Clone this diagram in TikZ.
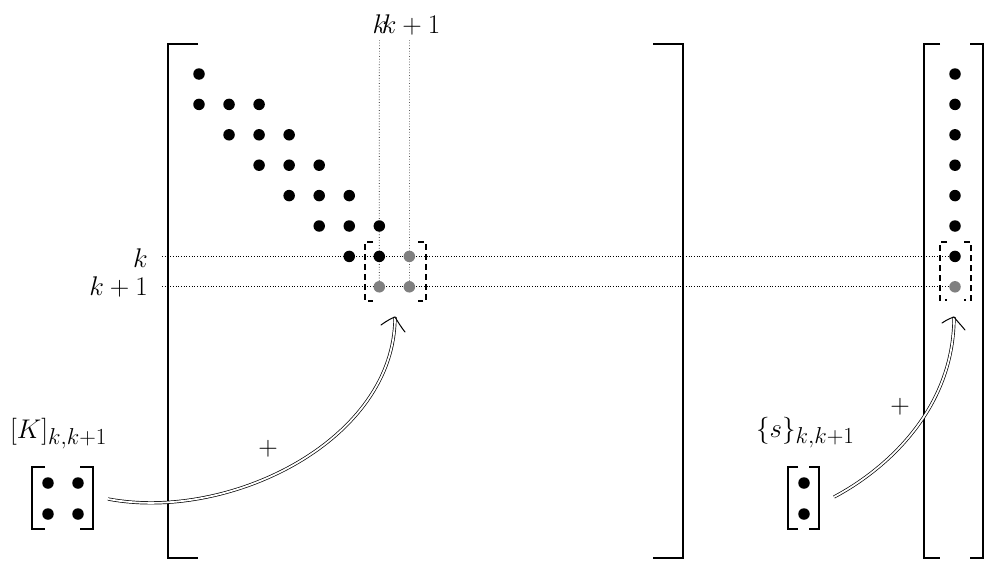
\documentclass[tikz,border=0pt]{standalone}
\usepackage{fix-cm}
\DeclareMathSizes{27}{27}{23}{17}
\usetikzlibrary{arrows.meta,backgrounds}
\begin{document}
\begin{tikzpicture}[x=1pt,y=-1pt,
  bracket/.style={line width=1.8pt},
  dotb/.style={circle,fill=black,inner sep=0pt,minimum size=11.5pt},
  dotg/.style={circle,fill=gray,inner sep=0pt,minimum size=11.5pt},
  guide/.style={dotted,line width=0.7pt},
  dbox/.style={dash pattern=on 6pt off 4pt,line width=1.3pt},
  lab/.style={font=\fontsize{27}{32}\selectfont,inner sep=0pt},
  sumarrow/.style={double,double distance=1.8pt,line width=0.7pt},
  chevron/.style={line width=1pt,line cap=round},
]
\useasboundingbox (0,0) rectangle (985,562);

% big matrix dots
\foreach \r/\cl in {0/{0},1/{0,1,2},2/{1,2,3},3/{2,3,4},4/{3,4,5},5/{4,5,6},6/{5,6}}{
  \foreach \c in \cl {
    \node[dotb] (m-\r-\c) at ({199+30.05*\c},{74+30.4*\r}) {};
  }
}
\node[dotg] (m-6-7) at ({199+30.05*7},{74+30.4*6}) {};
\node[dotg] (m-7-6) at ({199+30.05*6},{74+30.4*7}) {};
\node[dotg] (m-7-7) at ({199+30.05*7},{74+30.4*7}) {};

% vector dots
\foreach \r in {0,...,6}{
  \node[dotb] (v-\r) at (955,{74+30.4*\r}) {};
}
\node[dotg] (v-7) at (955,{74+30.4*7}) {};

% small matrix and vector dots
\node[dotb] (s-1-1) at (48,483) {};
\node[dotb] (s-1-2) at (78,483) {};
\node[dotb] (s-2-1) at (48,514) {};
\node[dotb] (s-2-2) at (78,514) {};
\node[dotb] (t-1) at (804,483) {};
\node[dotb] (t-2) at (804,514) {};

% labels
\node[lab,anchor=base] (topk) at (380,33) {$k$};
\node[lab,anchor=base] (topk1) at (411,33) {$k+1$};
\node[lab,anchor=base east] (lk) at (148,267) {$k$};
\node[lab,anchor=base east] (lk1) at (148,295) {$k+1$};
\node[lab,anchor=base west] (Klab) at (10,438) {$[K]_{k,k+1}$};
\node[lab,anchor=base west] (slab) at (756,437) {$\{s\}_{k,k+1}$};
\node[lab] (plus1) at (268,449) {$+$};
\node[lab] (plus2) at (900,407) {$+$};

% guide lines
\coordinate (gk) at (162,{74+30.4*6});
\coordinate (gk1) at (162,{74+30.4*7});
\coordinate (gc) at (379.35,40);
\coordinate (gc1) at (409.35,40);
\begin{scope}[on background layer]
  \draw[guide] (gk) -- (v-6);
  \draw[guide] (gk1) -- (v-7);
  \draw[guide] (gc) -- (m-7-6);
  \draw[guide] (gc1) -- (m-7-7);
\end{scope}

% big matrix brackets
\draw[bracket] (198,44) -- (168,44) -- (168,558) -- (198,558);
\draw[bracket] (653,44) -- (683,44) -- (683,558) -- (653,558);
% vector brackets
\draw[bracket] (940,44) -- (924,44) -- (924,558) -- (940,558);
\draw[bracket] (970,44) -- (983,44) -- (983,558) -- (970,558);
% small matrix brackets
\draw[bracket] (45,467) -- (32,467) -- (32,529) -- (45,529);
\draw[bracket] (80,467) -- (93,467) -- (93,529) -- (80,529);
% small vector brackets
\draw[bracket] (798,467) -- (788,467) -- (788,529) -- (798,529);
\draw[bracket] (809,467) -- (819,467) -- (819,529) -- (809,529);

% dashed brackets
\draw[dbox] (373,242) -- (365,242) -- (365,301) -- (373,301);
\draw[dbox] (418,242) -- (426,242) -- (426,301) -- (418,301);
\draw[dbox] (947,242) -- (940,242) -- (940,300) -- (947,300);
\draw[dbox] (964,242) -- (971,242) -- (971,300) -- (964,300);

% arrows
\coordinate (a1s) at (108,499);
\coordinate (a1e) at (395,317);
\coordinate (a2s) at (834,497);
\coordinate (a2e) at (954,317);
\draw[sumarrow] (a1s) .. controls (230,522) and (395,440) .. (a1e);
\draw[chevron] (381,325) .. controls (388,320) and (392,318) .. (a1e)
               .. controls (398,322) and (401,327) .. (405,332);
\draw[sumarrow] (a2s) .. controls (885,470) and (954,410) .. (a2e);
\draw[chevron] (942,323) .. controls (948,319) and (951,318) .. (a2e)
               .. controls (957,321) and (961,325) .. (965,330);
\end{tikzpicture}
\end{document}
